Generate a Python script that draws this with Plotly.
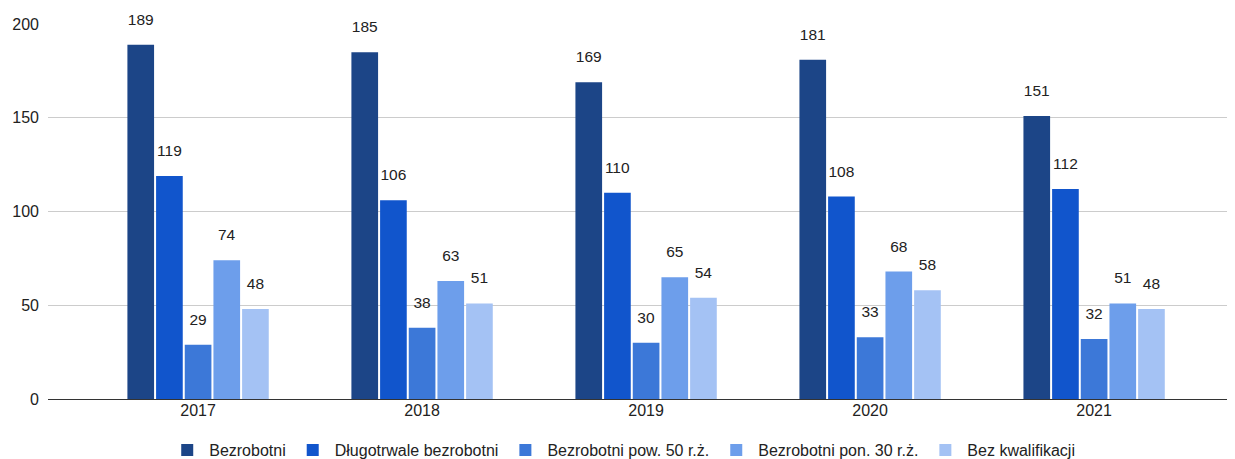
import plotly.graph_objects as go

years = ["2017", "2018", "2019", "2020", "2021"]
series_names = ["Bezrobotni", "Długotrwale bezrobotni", "Bezrobotni pow. 50 r.ż.",
                "Bezrobotni pon. 30 r.ż.", "Bez kwalifikacji"]
bezrobotni = [189, 185, 169, 181, 151]
dlugotrwale = [119, 106, 110, 108, 112]
pow50 = [29, 38, 30, 33, 32]
pon30 = [74, 63, 65, 68, 51]
bez_kwal = [48, 51, 54, 58, 48]
colors = ["#1c4587", "#1155cc", "#3c78d8", "#6d9eeb", "#a4c2f4"]

values = [bezrobotni, dlugotrwale, pow50, pon30, bez_kwal]

fig = go.Figure()
for name, vals, col in zip(series_names, values, colors):
    fig.add_trace(go.Bar(
        x=years, y=vals, name=name, marker=dict(color=col, line=dict(width=0)),
        text=[str(v) for v in vals],
        texttemplate="<span style='font-size:15.5px'>%{text}</span><br> ",
        textposition="outside", constraintext="none",
        textfont=dict(size=11.5, color="#222222"), cliponaxis=False,
    ))

# page body has an 8px default margin, so the figure is sized/offset accordingly
fig.update_layout(
    width=1227, height=451,
    margin=dict(l=40, r=2, t=16, b=60, autoexpand=False),
    paper_bgcolor="white", plot_bgcolor="white",
    font=dict(family="Arial, Liberation Sans, sans-serif", size=15, color="#222222"),
    barmode="group", bargap=0.36, bargroupgap=0.07,
    showlegend=True,
    legend=dict(orientation="h", x=0.485, xanchor="center", y=-0.136, yanchor="middle",
                font=dict(size=16, color="#222222"), itemwidth=34, traceorder="normal"),
)
fig.update_xaxes(type="category", range=[-0.670, 4.62], showgrid=False,
                 showline=False, ticks="", tickfont=dict(size=16, color="#222222"))
fig.update_yaxes(range=[0, 200], tickvals=[0, 50, 100, 150, 200], showgrid=True,
                 gridcolor="#cccccc", gridwidth=1, zeroline=True, zerolinecolor="#333333",
                 zerolinewidth=1, ticks="", tickfont=dict(size=16, color="#222222"),
                 ticklabelstandoff=8)

fig.write_html("out.html")
